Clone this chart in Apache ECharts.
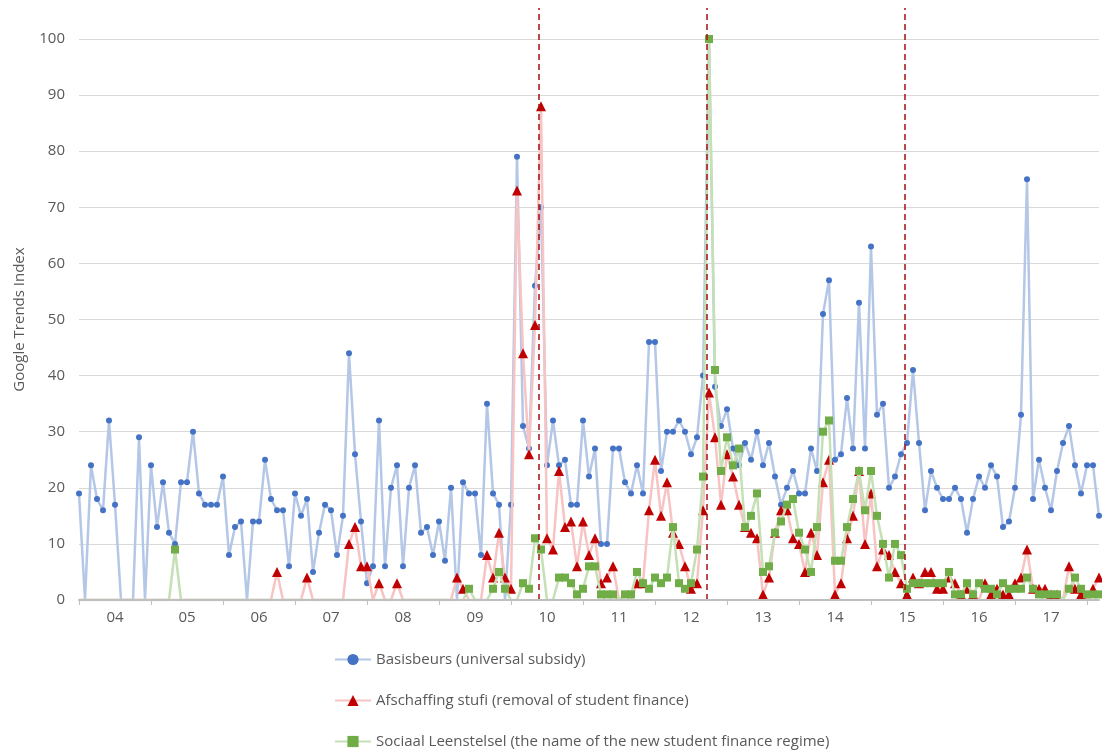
<!DOCTYPE html>
<html>
<head>
<meta charset="utf-8">
<script src="https://cdn.jsdelivr.net/npm/echarts@6/dist/echarts.min.js"></script>
<style>
  html,body{margin:0;padding:0;background:#fff;}
  #chart{width:1102px;height:751px;}
</style>
</head>
<body>
<div id="chart"></div>
<script>
// monthly, Jan 2004 .. Mar 2018
var startYear = 2004;
var basisbeurs = [
  19,0,24,18,16,32,17,0,0,0,29,0,
  24,13,21,12,10,21,21,30,19,17,17,17,
  22,8,13,14,0,14,14,25,18,16,16,6,
  19,15,18,5,12,17,16,8,15,44,26,14,
  3,6,32,6,20,24,6,20,24,12,13,8,
  14,7,20,0,21,19,19,8,35,19,17,0,
  17,79,31,27,56,70,24,32,24,25,17,17,
  32,22,27,10,10,27,27,21,19,24,19,46,
  46,23,30,30,32,30,26,29,40,100,38,31,
  34,27,24,28,25,30,24,28,22,17,20,23,
  19,19,27,23,51,57,25,26,36,27,53,27,
  63,33,35,20,22,26,28,41,28,16,23,20,
  18,18,20,18,12,18,22,20,24,22,13,14,
  20,33,75,18,25,20,16,23,28,31,24,19,
  24,24,15
];
var afschaffing = [
  0,0,0,0,0,0,0,0,0,0,0,0,
  0,0,0,0,0,0,0,0,0,0,0,0,
  0,0,0,0,0,0,0,0,0,5,0,0,
  0,0,4,0,0,0,0,0,0,10,13,6,
  6,0,3,0,0,3,0,0,0,0,0,0,
  0,0,0,4,2,0,0,0,8,4,12,4,
  2,73,44,26,49,88,11,9,23,13,14,6,
  14,8,11,3,4,6,0,0,0,3,3,16,
  25,15,21,12,10,6,2,3,16,37,29,17,
  26,22,17,13,12,11,1,4,12,16,16,11,
  10,5,12,8,21,25,1,3,11,15,23,10,
  19,6,9,8,5,3,1,4,3,5,5,2,
  2,4,3,1,2,1,0,3,1,2,1,1,
  3,4,9,2,2,2,1,1,0,6,2,1,
  0,2,4
];
var leenstelsel = [
  0,0,0,0,0,0,0,0,0,0,0,0,
  0,0,0,0,9,0,0,0,0,0,0,0,
  0,0,0,0,0,0,0,0,0,0,0,0,
  0,0,0,0,0,0,0,0,0,0,0,0,
  0,0,0,0,0,0,0,0,0,0,0,0,
  0,0,0,0,0,2,0,0,0,2,5,2,
  0,0,3,2,11,9,0,0,4,4,3,1,
  2,6,6,1,1,1,0,1,1,5,3,2,
  4,3,4,13,3,2,3,9,22,100,41,23,
  29,24,27,13,15,19,5,6,12,14,17,18,
  12,9,5,13,30,32,7,7,13,18,23,16,
  23,15,10,4,10,8,2,3,3,3,3,3,
  3,5,1,1,3,1,3,2,2,1,3,2,
  2,2,4,2,1,1,1,1,0,2,4,2,
  1,1,1
];
// event markers (month index, fractional)
var events = [76.7, 104.7, 137.6];

var months = [];
for (var i = 0; i < basisbeurs.length; i++) {
  var y = startYear + Math.floor(i / 12);
  months.push(y + '-' + ((i % 12) + 1));
}

var grey = '#595959';
function sz(n){ return function(v){ return v > 0 ? n : 0; }; }

var myChart = echarts.init(document.getElementById('chart'));
var option = {
  animation: false,
  textStyle: {fontFamily: 'Open Sans, Liberation Sans, sans-serif'},
  grid: [
    {left: 79, right: 3, top: 39, bottom: 151},
    {left: 79, right: 3, top: 8, bottom: 151}
  ],
  legend: {
    orient: 'vertical',
    left: 334,
    top: 652,
    height: 110,
    padding: 0,
    itemGap: 26,
    itemWidth: 36,
    itemHeight: 14,
    textStyle: {color: grey, fontSize: 15},
    data: ['Basisbeurs (universal subsidy)',
           'Afschaffing stufi (removal of student finance)',
           'Sociaal Leenstelsel (the name of the new student finance regime)']
  },
  xAxis: [{
    type: 'category',
    data: months,
    boundaryGap: false,
    z: 10,
    axisLine: {lineStyle: {color: '#bfbfbf', width: 2}},
    axisTick: {
      interval: function(idx){ return idx % 12 === 0; },
      length: 5,
      lineStyle: {color: '#bfbfbf'}
    },
    axisLabel: {
      interval: function(idx){ return idx % 12 === 6; },
      formatter: function(v){ return v.split('-')[0].slice(2); },
      color: grey, fontSize: 15, margin: 10
    }
  }, {
    type: 'value', gridIndex: 1, min: 0, max: basisbeurs.length - 1, show: false
  }],
  yAxis: [{
    type: 'value',
    min: 0, max: 100, interval: 10,
    name: 'Google Trends Index',
    nameLocation: 'middle',
    nameGap: 52,
    nameTextStyle: {color: grey, fontSize: 15},
    axisLine: {show: false},
    axisTick: {show: false},
    axisLabel: {color: grey, fontSize: 15, margin: 14},
    splitLine: {lineStyle: {color: '#d9d9d9'}}
  }, {
    type: 'value', gridIndex: 1, min: 0, max: 1, show: false
  }],
  series: [
    {
      name: 'Basisbeurs (universal subsidy)',
      type: 'line',
      data: basisbeurs,
      symbol: 'circle',
      symbolSize: sz(6),
      showAllSymbol: true,
      z: 2,
      lineStyle: {color: '#b4c7e7', width: 2.5},
      itemStyle: {color: '#4472c4', borderWidth: 0}
    },
    {
      name: 'Afschaffing stufi (removal of student finance)',
      type: 'line',
      data: afschaffing,
      symbol: 'triangle',
      symbolSize: sz(10),
      showAllSymbol: true,
      z: 3,
      lineStyle: {color: '#f8c3c3', width: 2.5},
      itemStyle: {color: '#c00000', borderWidth: 0}
    },
    {
      name: 'Sociaal Leenstelsel (the name of the new student finance regime)',
      type: 'line',
      data: leenstelsel,
      symbol: 'rect',
      symbolSize: sz(8),
      showAllSymbol: true,
      z: 4,
      lineStyle: {color: '#c5e0b4', width: 2.5},
      itemStyle: {color: '#70ad47', borderWidth: 0}
    },
    {
      type: 'line',
      xAxisIndex: 1, yAxisIndex: 1,
      data: [],
      silent: true,
      markLine: {
        symbol: 'none',
        label: {show: false},
        lineStyle: {color: '#a50f15', type: [6, 4], width: 1.5},
        data: events.map(function(e){ return {xAxis: e}; })
      }
    }
  ]
};
myChart.setOption(option);
</script>
</body>
</html>
